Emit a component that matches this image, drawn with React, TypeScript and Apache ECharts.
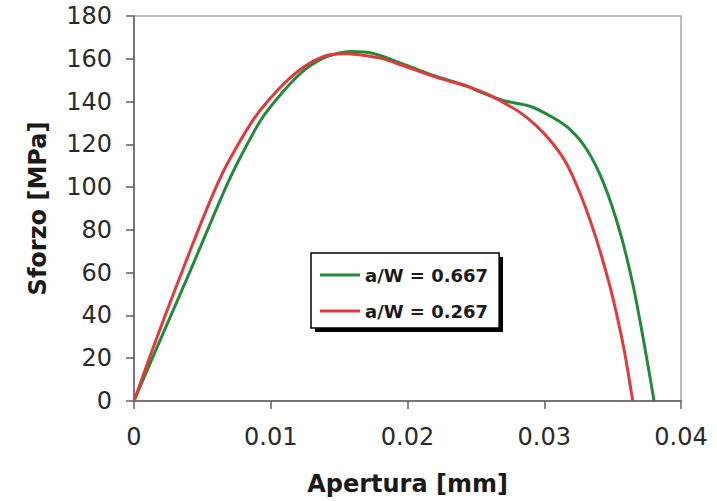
import React, { useEffect, useRef } from "react";
import * as echarts from "echarts";

const xTickLabels = ["0", "0.01", "0.02", "0.03", "0.04"];
const seriesNames = ["a/W = 0.667", "a/W = 0.267"];

const greenX = [0, 0.00134, 0.0027, 0.00406, 0.00538, 0.00672, 0.0077, 0.0093, 0.01104, 0.0125, 0.01409, 0.0158, 0.0175, 0.02, 0.0219, 0.0244, 0.0253, 0.027, 0.02896, 0.03066, 0.03188, 0.0331, 0.03432, 0.03554, 0.0365, 0.0373, 0.03803];
const greenY = [0, 20, 40, 60, 80, 100, 113, 131.6, 145.6, 154.9, 161, 163.4, 162.5, 156.8, 152.2, 147.2, 144.5, 140.5, 137.8, 132.4, 127, 117.7, 102.2, 79, 54, 27, 0];

const redX = [0, 0.00112, 0.00228, 0.00348, 0.0047, 0.006, 0.007, 0.00873, 0.01055, 0.01214, 0.01384, 0.0153, 0.018, 0.0195, 0.0219, 0.0244, 0.0258, 0.027, 0.0283, 0.02945, 0.0305, 0.0315, 0.0325, 0.03345, 0.0343, 0.03505, 0.03583, 0.03647];
const redY = [0, 20, 40, 60, 80, 100, 113, 131.6, 145.6, 154.9, 161, 162.3, 160.3, 157.2, 151.8, 147, 143.6, 139.6, 134.6, 128.5, 121.3, 112.4, 98.9, 82.7, 65.3, 47.3, 24.3, 0];

const GREEN = "#228a38";
const RED = "#e23a3a";

export default function App() {
  const ref = useRef<HTMLDivElement>(null);
  useEffect(() => {
    if (!ref.current) return;
    const chart = echarts.init(ref.current, undefined, { renderer: "svg" });
    const green = greenX.map((x, i) => [x, greenY[i]]);
    const red = redX.map((x, i) => [x, redY[i]]);
    chart.setOption({
      animation: false,
      backgroundColor: "#ffffff",
      grid: {
        left: 134,
        top: 16,
        right: 36,
        bottom: 98,
        show: true,
        borderColor: "#a8a8a8",
        borderWidth: 1.5,
        backgroundColor: "transparent",
      },
      graphic: [
        {
          type: "rect",
          z: 1,
          shape: { x: 315, y: 257, width: 188, height: 75 },
          style: { fill: "#000000" },
        },
      ],
      legend: {
        orient: "vertical",
        left: 311,
        top: 253,
        z: 10,
        padding: [12, 11, 7, 9],
        itemGap: 16,
        itemWidth: 40,
        itemHeight: 14,
        backgroundColor: "#ffffff",
        borderColor: "#000000",
        borderWidth: 1.5,
        icon: "path://M0,6 L40,6 L40,9 L0,9 Z",
        textStyle: {
          fontFamily: "DejaVu Sans",
          fontWeight: "bold",
          fontSize: 18,
          color: "#1a1a1a",
          lineHeight: 20,
        },
        data: seriesNames,
      },
      xAxis: {
        type: "value",
        min: 0,
        max: 0.04,
        interval: 0.01,
        name: "Apertura [mm]",
        nameLocation: "middle",
        nameGap: 71,
        nameTextStyle: {
          fontFamily: "DejaVu Sans",
          fontWeight: "bold",
          fontSize: 24,
          color: "#1a1a1a",
        },
        axisLine: { show: true, onZero: false, lineStyle: { color: "#606060", width: 1.5 } },
        axisTick: { show: true, inside: false, length: 8, lineStyle: { color: "#606060", width: 1.5 } },
        splitLine: { show: false },
        axisLabel: {
          margin: 24,
          fontFamily: "DejaVu Sans",
          fontSize: 24,
          color: "#2a2a2a",
          formatter: (v: number) => xTickLabels[Math.round(v / 0.01)] ?? String(v),
        },
      },
      yAxis: {
        type: "value",
        min: 0,
        max: 180,
        interval: 20,
        name: "Sforzo [MPa]",
        nameLocation: "middle",
        nameGap: 84,
        nameTextStyle: {
          fontFamily: "DejaVu Sans",
          fontWeight: "bold",
          fontSize: 24,
          color: "#1a1a1a",
        },
        axisLine: { show: true, lineStyle: { color: "#606060", width: 1.5 } },
        axisTick: { show: true, inside: false, length: 8, lineStyle: { color: "#606060", width: 1.5 } },
        splitLine: { show: false },
        axisLabel: {
          margin: 22,
          fontFamily: "DejaVu Sans",
          fontSize: 24,
          color: "#2a2a2a",
        },
      },
      series: [
        {
          name: seriesNames[0],
          type: "line",
          data: green,
          smooth: 0.25,
          showSymbol: false,
          symbol: "none",
          lineStyle: { color: GREEN, width: 3 },
          itemStyle: { color: GREEN },
          z: 3,
        },
        {
          name: seriesNames[1],
          type: "line",
          data: red,
          smooth: 0.25,
          showSymbol: false,
          symbol: "none",
          lineStyle: { color: RED, width: 3 },
          itemStyle: { color: RED },
          z: 4,
        },
      ],
    });
    return () => chart.dispose();
  }, []);
  return (
    <div
      ref={ref}
      style={{ position: "fixed", left: 0, top: 0, width: 717, height: 501 }}
    />
  );
}
